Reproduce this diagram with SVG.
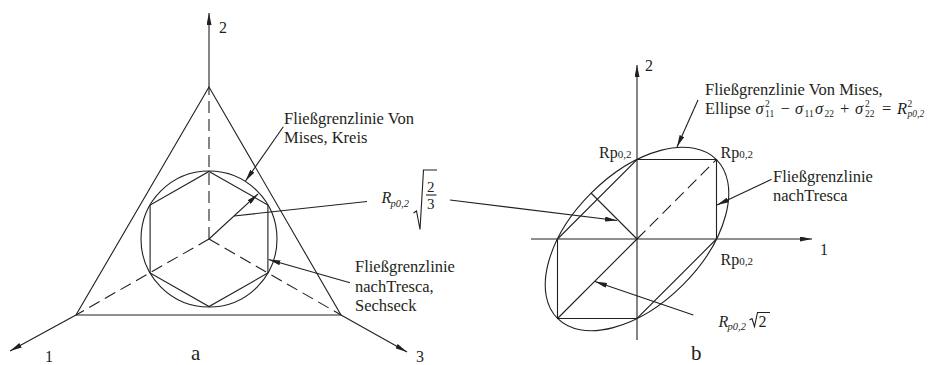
<svg xmlns="http://www.w3.org/2000/svg" width="929" height="365" viewBox="0 0 929 365">
<defs>
<style>
.ln{fill:none;stroke:#231f20;stroke-width:1.1}
.dash{fill:none;stroke:#231f20;stroke-width:1.1;stroke-dasharray:12 6}
text{font-family:"Liberation Serif","Times New Roman",serif;fill:#231f20}
.t{font-size:16.5px}
.n{font-size:16px}
.f{font-size:15px}
.i{font-style:italic}
.sm{font-size:11px}
.idx{font-size:9.5px}
.sub{font-size:10.5px;font-style:italic}
.big{font-size:21px}
</style>
<marker id="ah" viewBox="0 0 12 5" refX="12" refY="2.5" markerWidth="12" markerHeight="5" markerUnits="userSpaceOnUse" orient="auto">
<path d="M0,0 L12,2.5 L0,5 Z" fill="#231f20"/>
</marker>
</defs>
<rect width="929" height="365" fill="#fff"/>

<!-- Diagram a -->
<g id="diagram-a">
  <g id="a-axes">
    <line class="ln" x1="209" y1="87" x2="209" y2="13" marker-end="url(#ah)"/>
    <line class="ln" x1="76" y1="315" x2="10" y2="351" marker-end="url(#ah)"/>
    <line class="ln" x1="341" y1="315" x2="407" y2="352" marker-end="url(#ah)"/>
  </g>
  <g id="a-triangle">
    <polygon class="ln" points="209,87 76,315 341,315"/>
  </g>
  <g id="a-dashed">
    <line class="dash" x1="209" y1="239" x2="209" y2="87"/>
    <line class="dash" x1="209" y1="239" x2="76" y2="315"/>
    <line class="dash" x1="209" y1="239" x2="341" y2="315"/>
  </g>
  <g id="a-circle">
    <circle class="ln" cx="209" cy="239" r="68"/>
  </g>
  <g id="a-hexagon">
    <polygon class="ln" points="209,171.5 267.9,205 267.9,273 209,306.5 150.1,273 150.1,205"/>
  </g>
  <g id="a-radius">
    <line class="ln" x1="209" y1="239" x2="258" y2="194" marker-end="url(#ah)"/>
  </g>
  <g id="a-labels">
    <text class="n" x="219" y="33">2</text>
    <text class="n" x="45" y="361.5">1</text>
    <text class="n" x="416" y="361.5">3</text>
    <text class="big" x="191" y="360">a</text>
    <text class="t" x="284" y="124">Fließgrenzlinie Von</text>
    <text class="t" x="284" y="143">Mises, Kreis</text>
    <text class="t" x="355" y="272">Fließgrenzlinie</text>
    <text class="t" x="355" y="291.5">nachTresca,</text>
    <text class="t" x="355" y="311">Sechseck</text>
    <text class="n i" x="381.5" y="203">R</text>
    <text class="sub" x="390.5" y="206.5">p0,2</text>
    <path class="ln" d="M413.5,213 L416.5,211 L420,229.5 L423.5,170 L437,170"/>
    <text class="f" x="427" y="192">2</text>
    <line class="ln" x1="426" y1="195" x2="436.5" y2="195"/>
    <text class="f" x="427" y="208.5">3</text>
  </g>
</g>

<!-- Diagram b -->
<g id="diagram-b">
  <g id="b-axes">
    <line class="ln" x1="637" y1="340" x2="637" y2="65" marker-end="url(#ah)"/>
    <line class="ln" x1="531" y1="239" x2="812" y2="239" marker-end="url(#ah)"/>
  </g>
  <g id="b-ellipse">
    <ellipse class="ln" cx="637" cy="239" rx="112.4" ry="64.9" transform="rotate(-45 637 239)"/>
  </g>
  <g id="b-tresca">
    <polygon class="ln" points="637,159.5 716.5,159.5 716.5,239 637,318.5 557.5,318.5 557.5,239"/>
  </g>
  <g id="b-lines">
    <line class="dash" x1="637" y1="239" x2="716.5" y2="159.5"/>
    <line class="ln" x1="557.5" y1="318.5" x2="637" y2="239"/>
    <line class="ln" x1="637" y1="239" x2="591" y2="193"/>
  </g>
  <g id="b-labels">
    <text class="n" x="645" y="71">2</text>
    <text class="n" x="820" y="255">1</text>
    <text class="big" x="691" y="360">b</text>
    <text class="n" x="599" y="157.5">Rp<tspan class="sm">0,2</tspan></text>
    <text class="n" x="720.5" y="157.5">Rp<tspan class="sm">0,2</tspan></text>
    <text class="n" x="720.5" y="265">Rp<tspan class="sm">0,2</tspan></text>
    <text class="t" x="773" y="181.5">Fließgrenzlinie</text>
    <text class="t" x="773" y="200.5">nachTresca</text>
    <text class="t" x="705" y="94.5">Fließgrenzlinie Von Mises,</text>
    <text class="t" x="705" y="113.5">Ellipse</text>
    <text class="t i" x="755.5" y="113.5">σ</text>
    <text class="idx" x="765" y="106.5">2</text>
    <text class="idx" x="765" y="116.5">11</text>
    <text class="t" x="780.5" y="113.5">−</text>
    <text class="t i" x="795" y="113.5">σ</text>
    <text class="idx" x="804.5" y="116.5">11</text>
    <text class="t i" x="815" y="113.5">σ</text>
    <text class="idx" x="824.5" y="116.5">22</text>
    <text class="t" x="840" y="113.5">+</text>
    <text class="t i" x="855" y="113.5">σ</text>
    <text class="idx" x="865" y="106.5">2</text>
    <text class="idx" x="865" y="116.5">22</text>
    <text class="t" x="882" y="113.5">=</text>
    <text class="t i" x="897" y="113.5">R</text>
    <text class="idx" x="907.5" y="106.5">2</text>
    <text class="idx i" x="907.5" y="116.5">p0,2</text>
    <text class="n i" x="718.5" y="326.5">R</text>
    <text class="sub" x="727.5" y="330">p0,2</text>
    <path class="ln" d="M749.5,320 L752,318.5 L754.5,326.5 L757.5,312.5 L770,312.5"/>
    <text class="n" x="758.5" y="326.5">2</text>
  </g>
</g>

<!-- Leader connectors -->
<g id="connectors">
  <line class="ln" x1="283.3" y1="126.7" x2="245.5" y2="181" marker-end="url(#ah)"/>
  <line class="ln" x1="350" y1="282.7" x2="268.5" y2="259.5" marker-end="url(#ah)"/>
  <line class="ln" x1="234" y1="216" x2="367" y2="201.5"/>
  <line class="ln" x1="450" y1="200" x2="617" y2="220.5" marker-end="url(#ah)"/>
  <line class="ln" x1="698" y1="100" x2="677" y2="147" marker-end="url(#ah)"/>
  <line class="ln" x1="771.5" y1="179.3" x2="717" y2="205" marker-end="url(#ah)"/>
  <line class="ln" x1="693.3" y1="315" x2="595" y2="281.5" marker-end="url(#ah)"/>
</g>
</svg>
